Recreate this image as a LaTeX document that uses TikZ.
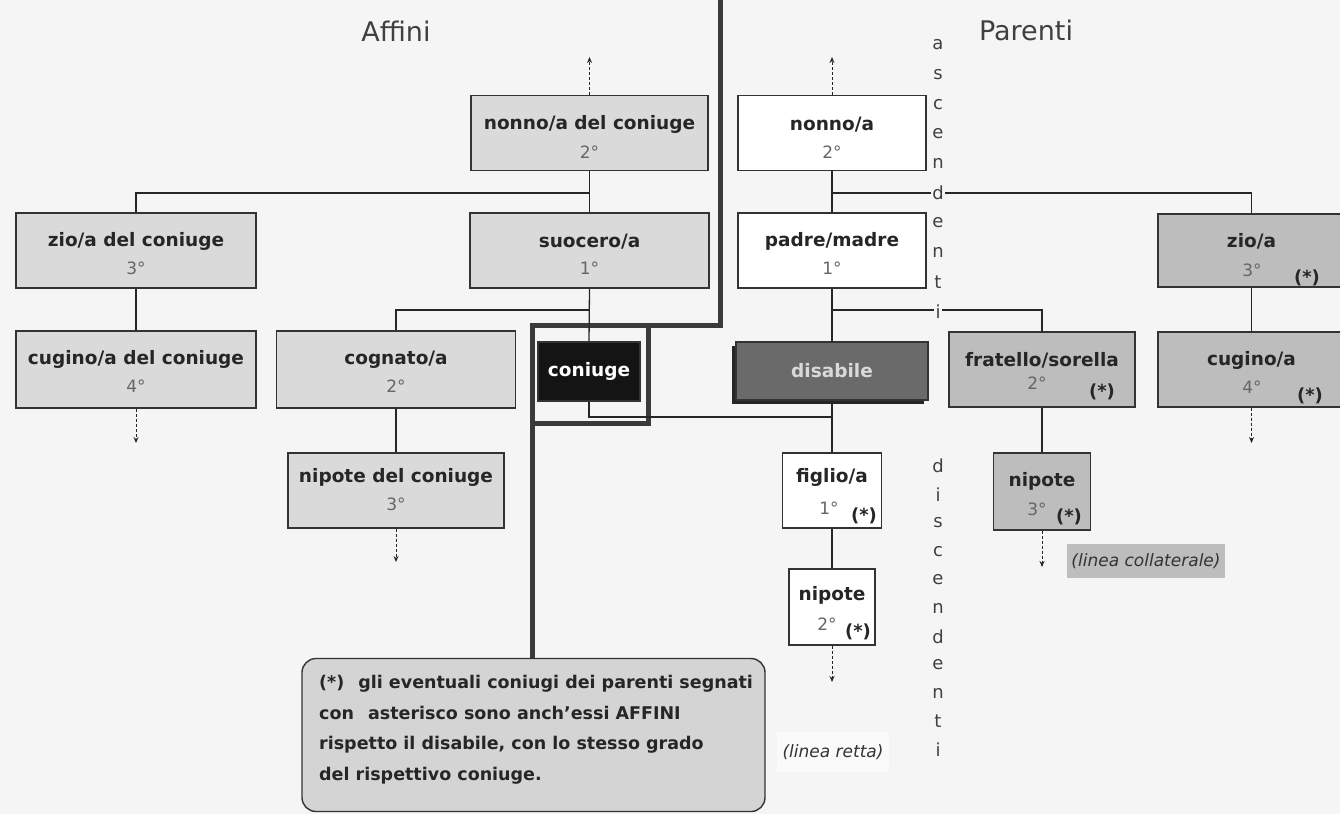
\documentclass[tikz,border=0pt]{standalone}
\usepackage{fontspec}
\setmainfont{DejaVu Sans}
\usetikzlibrary{calc,arrows.meta,shadows}
\definecolor{bg}{HTML}{F5F5F5}
\definecolor{edge}{HTML}{333333}
\definecolor{affc}{HTML}{DADADA}
\definecolor{colc}{HTML}{BDBDBD}
\definecolor{legc}{HTML}{D4D4D4}
\definecolor{conc}{HTML}{141414}
\definecolor{disc}{HTML}{6A6A6A}
\definecolor{divc}{HTML}{3A3A3A}
\begin{document}
\begin{tikzpicture}[x=1pt,y=-1pt,
  box/.style={draw=edge, line width=1.4pt, inner sep=0pt, minimum height=75pt},
  affbox/.style={box, fill=affc},
  colbox/.style={box, fill=colc},
  dirbox/.style={box, fill=white},
  nm/.style={font=\fontsize{18.5}{18.5}\selectfont\bfseries, text=black!85, inner sep=0pt},
  deg/.style={font=\fontsize{17}{17}\selectfont, text=black!60, inner sep=0pt},
  star/.style={font=\fontsize{18}{18}\selectfont\bfseries, text=black!85, inner sep=0pt},
  link/.style={draw=black!85, line width=1.3pt},
  darrow/.style={draw=black!85, line width=1pt, dash pattern=on 3pt off 2pt, -{Stealth[length=6pt,width=5pt]}},
  vlet/.style={font=\fontsize{18}{18}\selectfont, text=black!75, fill=bg, inner sep=1.5pt},
  ttl/.style={font=\fontsize{27}{27}\selectfont, text=black!75},
  divider/.style={draw=divc, line width=5pt, line join=miter},
  note/.style={font=\fontsize{17}{17}\selectfont\itshape, text=black!80, inner sep=0pt}
]
\useasboundingbox (0,0) rectangle (1340,814);
\fill[bg] (0,0) rectangle (1340,814);
\clip (0,0) rectangle (1340,814);

% titles
\node[ttl] (affini) at (396,31) {Affini};
\node[ttl] (parenti) at (1026,30) {Parenti};

% divider between affini and parenti
\draw[divider] (720,-5) -- (720,325) -- (532,325) -- (532,660);
\draw[divider] (532,325) -- (648,325) -- (648,423) -- (532,423);

% ---------- Affini boxes ----------
\node[affbox, minimum width=237pt] (nonnoC) at (589.5,133) {};
\node[nm] (nonnoCn) at ($(nonnoC.north)+(0,30)$) {nonno/a del coniuge};
\node[deg] (nonnoCd) at ($(nonnoC.north)+(0,57)$) {2°};

\node[affbox, minimum width=240pt] (zioC) at (136,250.5) {};
\node[nm] (zioCn) at ($(zioC.north)+(0,29)$) {zio/a del coniuge};
\node[deg] (zioCd) at ($(zioC.north)+(0,56)$) {3°};

\node[affbox, minimum width=239pt] (suocero) at (589.5,250.5) {};
\node[nm] (suoceron) at ($(suocero.north)+(0,29)$) {suocero/a};
\node[deg] (suocerod) at ($(suocero.north)+(0,56)$) {1°};

\node[affbox, minimum width=240pt, minimum height=77pt] (cuginoC) at (136,369.5) {};
\node[nm] (cuginoCn) at ($(cuginoC.north)+(0,29)$) {cugino/a del coniuge};
\node[deg] (cuginoCd) at ($(cuginoC.north)+(0,56)$) {4°};

\node[affbox, minimum width=239pt, minimum height=77pt] (cognato) at (396,369.5) {};
\node[nm] (cognaton) at ($(cognato.north)+(0,29)$) {cognato/a};
\node[deg] (cognatod) at ($(cognato.north)+(0,56)$) {2°};

\node[affbox, minimum width=216pt] (nipoteDC) at (396,490.5) {};
\node[nm] (nipoteDCn) at ($(nipoteDC.north)+(0,25)$) {nipote del coniuge};
\node[deg] (nipoteDCd) at ($(nipoteDC.north)+(0,52)$) {3°};

\node[box, fill=conc, minimum width=102pt, minimum height=59pt,
      font=\fontsize{18.5}{18.5}\selectfont\bfseries, text=white] (coniuge) at (589,371.5) {coniuge};

% ---------- Parenti boxes ----------
\node[dirbox, minimum width=188pt] (nonnoP) at (832,133) {};
\node[nm] (nonnoPn) at ($(nonnoP.north)+(0,30)$) {nonno/a};
\node[deg] (nonnoPd) at ($(nonnoP.north)+(0,57)$) {2°};

\node[dirbox, minimum width=188pt] (padre) at (832,250.5) {};
\node[nm] (padren) at ($(padre.north)+(0,29)$) {padre/madre};
\node[deg] (padred) at ($(padre.north)+(0,56)$) {1°};

\node[colbox, minimum width=187pt, minimum height=73pt] (zioP) at (1251.5,250.5) {};
\node[nm] (zioPn) at ($(zioP.north)+(0,28)$) {zio/a};
\node[deg] (zioPd) at (1252,270) {3°};
\node[star] (zioPs) at (1307,278) {(*)};

\node[colbox, minimum width=187pt] (cuginoP) at (1251.5,369.5) {};
\node[nm] (cuginoPn) at ($(cuginoP.north)+(0,29)$) {cugino/a};
\node[deg] (cuginoPd) at (1252,387) {4°};
\node[star] (cuginoPs) at (1310,396) {(*)};

\node[box, fill=disc, minimum width=192pt, minimum height=58pt, draw=black!80,
      drop shadow={shadow xshift=-4pt, shadow yshift=-4pt, fill=black!85, opacity=1},
      font=\fontsize{18.5}{18.5}\selectfont\bfseries, text=white!85!black] (disabile) at (832,371) {disabile};

\node[colbox, minimum width=186pt] (fratello) at (1042,369.5) {};
\node[nm] (fratellon) at ($(fratello.north)+(0,29)$) {fratello/sorella};
\node[deg] (fratellod) at (1037,383) {2°};
\node[star] (fratellos) at (1102,392) {(*)};

\node[dirbox, minimum width=99pt] (figlio) at (832,490.5) {};
\node[nm] (figlion) at ($(figlio.north)+(0,25)$) {figlio/a};
\node[deg] (figliod) at (829,508) {1°};
\node[star] (figlios) at (864,516) {(*)};

\node[dirbox, minimum width=86pt, minimum height=76pt] (nipoteP) at (832,607) {};
\node[nm] (nipotePn) at ($(nipoteP.north)+(0,27)$) {nipote};
\node[deg] (nipotePd) at (827,624) {2°};
\node[star] (nipotePs) at (858,632) {(*)};

\node[colbox, minimum width=97pt, minimum height=77pt] (nipoteColl) at (1042,491.5) {};
\node[nm] (nipoteColln) at ($(nipoteColl.north)+(0,29)$) {nipote};
\node[deg] (nipoteColld) at (1037,509) {3°};
\node[star] (nipoteColls) at (1069,517) {(*)};

% ---------- connectors ----------
\coordinate (jAff) at (589.5,193);
\coordinate (jSuo) at (589.5,310);
\coordinate (jSpouse) at (832,417);
\coordinate (jPar) at (832,193);
\coordinate (jSib) at (832,310);

\draw[link] (nonnoC.south) -- (suocero.north);
\draw[link] (zioC.north) |- (jAff);
\draw[link] (zioC.south) -- (cuginoC.north);
\draw[link] (cognato.north) |- (jSuo);
\draw[link] (suocero.south) -- (coniuge.north);
\draw[link] (cognato.south) -- (nipoteDC.north);
\draw[link] (coniuge.south) |- (jSpouse);

\draw[link] (nonnoP.south) -- (padre.north);
\draw[link] (zioP.north) |- (jPar);
\draw[link] (zioP.south) -- (cuginoP.north);
\draw[link] (padre.south) -- (disabile.north);
\draw[link] (fratello.north) |- (jSib);
\draw[link] (disabile.south) -- (figlio.north);
\draw[link] (figlio.south) -- (nipoteP.north);
\draw[link] (fratello.south) -- (nipoteColl.north);

% dashed continuation arrows
\coordinate (upC) at (589.5,57);
\coordinate (upP) at (832,57);
\coordinate (dnCC) at (136,443);
\coordinate (dnNDC) at (396,562);
\coordinate (dnNP) at (832,682);
\coordinate (dnNC) at (1042,567);
\coordinate (dnCP) at (1251.5,443);
\draw[darrow] (nonnoC.north) -- (upC);
\draw[darrow] (nonnoP.north) -- (upP);
\draw[darrow] (cuginoC.south) -- (dnCC);
\draw[darrow] (nipoteDC.south) -- (dnNDC);
\draw[darrow] (nipoteP.south) -- (dnNP);
\draw[darrow] (nipoteColl.south) -- (dnNC);
\draw[darrow] (cuginoP.south) -- (dnCP);

% notes
\node[note, fill=colc, minimum width=158pt, minimum height=34pt] (collat) at (1146,561) {(linea collaterale)};
\node[note, fill=white!45!bg, minimum width=112pt, minimum height=40pt] (retta) at (833,752) {(linea retta)};

% vertical words
\foreach \l [count=\i] in {a,s,c,e,n,d,e,n,t,i}
  \node[vlet] (asc\i) at (938,{45+29.6*(\i-1)}) {\l};
\foreach \l [count=\i] in {d,i,s,c,e,n,d,e,n,t,i}
  \node[vlet] (disc\i) at (938,{466+28.4*(\i-1)}) {\l};

% legend
\node[draw=edge, line width=1.4pt, fill=legc, rounded corners=14pt,
      minimum width=463pt, minimum height=153pt] (legend) at (533.5,735) {};
\node[anchor=north west, align=left, inner sep=0pt, text=black!85,
      font=\fontsize{17.5}{30.5}\selectfont\bfseries] (legendText) at (319,675)
  {(*)\hspace{0.8em}gli eventuali coniugi dei parenti segnati\\
   con\hspace{0.8em}asterisco sono anch'essi AFFINI\\
   rispetto il disabile, con lo stesso grado\\
   del rispettivo coniuge.};
\end{tikzpicture}
\end{document}
